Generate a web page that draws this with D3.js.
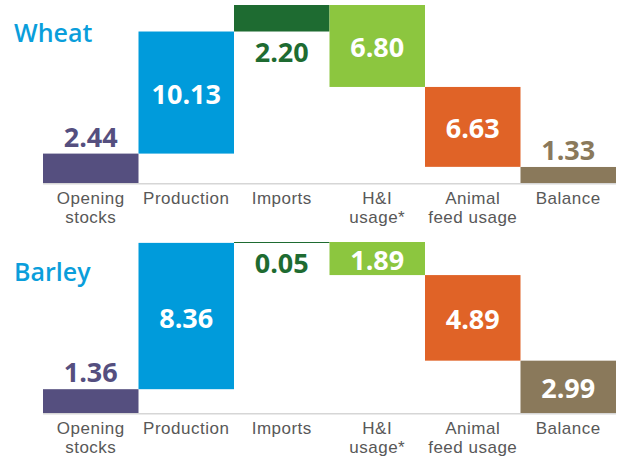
<!DOCTYPE html>
<html>
<head>
<meta charset="utf-8">
<script src="https://cdn.jsdelivr.net/npm/d3@7"></script>
<style>
  html, body { margin: 0; padding: 0; background: #fff; }
  svg { display: block; }
</style>
</head>
<body>
<svg id="chart" width="624" height="457"></svg>
<script>
// ---- data ----
const categories = ["Opening stocks", "Production", "Imports", "H&I usage*", "Animal feed usage", "Balance"];
const tickLabels = [["Opening", "stocks"], ["Production"], ["Imports"], ["H&I", "usage*"], ["Animal", "feed usage"], ["Balance"]];
const stepKinds = ["total", "increase", "increase", "decrease", "decrease", "total"];
const wheatValues = [2.44, 10.13, 2.20, 6.80, 6.63, 1.33];
const barleyValues = [1.36, 8.36, 0.05, 1.89, 4.89, 2.99];
const panelTitles = ["Wheat", "Barley"];

// ---- styles ----
const colors = ["#554f7f", "#009bdb", "#1e6b31", "#8cc63f", "#e06327", "#8a795b"];
const titleColor = "#0a9edb";
const valueFont = "'Open Sans', 'DejaVu Sans', sans-serif";
const tickFont = "'Liberation Sans', Arial, sans-serif";

const svg = d3.select("#chart");
const x = d3.scaleBand().domain(categories).range([43, 616]).padding(0);

const panels = [
  { title: panelTitles[0], values: wheatValues, top: 5, base: 183, titleY: 42 },
  { title: panelTitles[1], values: barleyValues, top: 242, base: 413, titleY: 281 }
];

function waterfall(values) {
  let cum = 0;
  return values.map((v, i) => {
    let lo, hi;
    if (stepKinds[i] === "total") { lo = 0; hi = v; cum = v; }
    else if (stepKinds[i] === "increase") { lo = cum; hi = cum + v; cum = hi; }
    else { hi = cum; lo = cum - v; cum = lo; }
    return { cat: categories[i], value: v, lo, hi, i };
  });
}

panels.forEach(p => {
  const steps = waterfall(p.values);
  const maxV = d3.max(steps, d => d.hi);
  const y = d3.scaleLinear().domain([0, maxV]).range([p.base, p.top]);
  const g = svg.append("g");

  // title
  g.append("text")
    .attr("x", 14).attr("y", p.titleY)
    .attr("font-family", valueFont).attr("font-weight", 600)
    .attr("font-size", 25).attr("fill", titleColor)
    .text(p.title);

  // baseline
  g.append("line")
    .attr("x1", x.range()[0]).attr("x2", x.range()[1])
    .attr("y1", p.base + 0.8).attr("y2", p.base + 0.8)
    .attr("stroke", "#d6d6d6").attr("stroke-width", 1.6);

  // bars
  g.selectAll("rect.bar").data(steps).enter().append("rect")
    .attr("class", "bar")
    .attr("x", d => x(d.cat))
    .attr("width", x.bandwidth())
    .attr("y", d => y(d.hi))
    .attr("height", d => Math.max(1, y(d.lo) - y(d.hi)))
    .attr("fill", d => colors[d.i]);

  // value labels
  const digitH = 19;
  g.selectAll("text.val").data(steps).enter().append("text")
    .attr("class", "val")
    .attr("x", d => x(d.cat) + x.bandwidth() / 2)
    .attr("text-anchor", "middle")
    .attr("font-family", valueFont).attr("font-weight", 700)
    .attr("font-size", 27)
    .each(function (d) {
      const top = y(d.hi), bot = y(d.lo), h = bot - top;
      const t = d3.select(this);
      if (h >= 31) {
        t.attr("y", (top + bot) / 2 + digitH / 2 + 2).attr("fill", "#ffffff");
      } else if (top - p.top >= 32) {
        t.attr("y", top - 7).attr("fill", colors[d.i]);
      } else {
        t.attr("y", bot + 30).attr("fill", colors[d.i]);
      }
    })
    .text(d => d.value.toFixed(2));

  // category labels (one text element per line)
  const tickLines = [];
  categories.forEach((c, i) => {
    tickLabels[i].forEach((line, k) => tickLines.push({ cat: c, line, k }));
  });
  g.selectAll("text.tick").data(tickLines).enter().append("text")
    .attr("class", "tick")
    .attr("x", d => x(d.cat) + x.bandwidth() / 2)
    .attr("y", d => p.base + 20.5 + d.k * 19.6)
    .attr("text-anchor", "middle")
    .attr("font-family", tickFont).attr("font-size", 17)
    .attr("letter-spacing", 0.5)
    .attr("fill", "#585858")
    .text(d => d.line);
});
</script>
</body>
</html>
